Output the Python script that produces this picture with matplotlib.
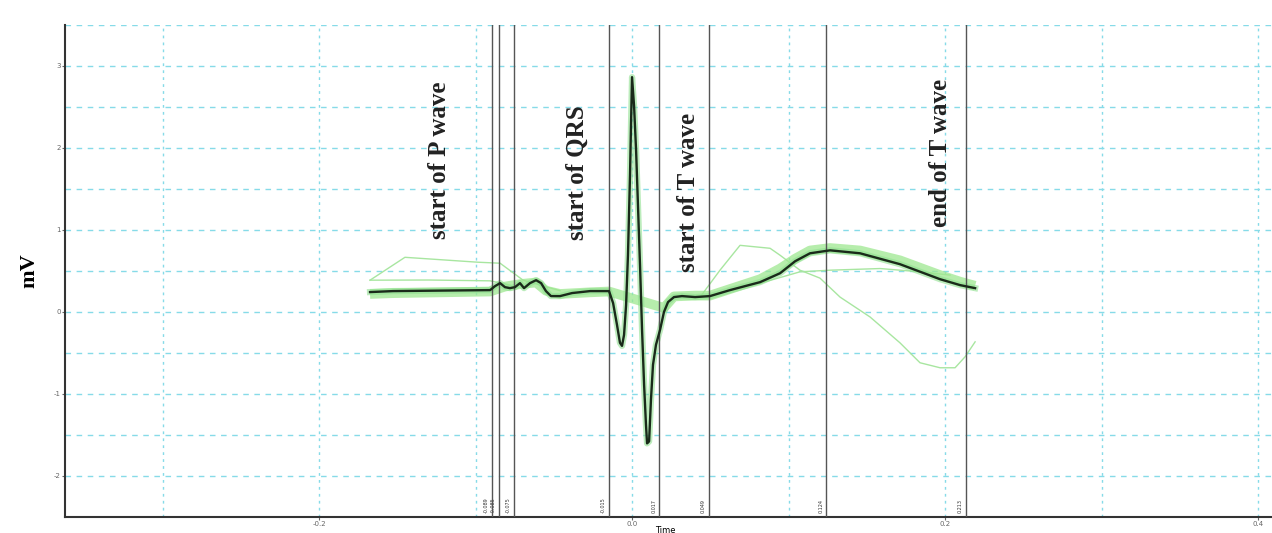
import numpy as np
import matplotlib.pyplot as plt

# averaged ECG beat (time in s, amplitude in mV)
t_mean = [-0.1674, -0.1527, -0.0907, -0.0875, -0.0843, -0.0812, -0.0780, -0.0748,
          -0.0716, -0.0690, -0.0652, -0.0613, -0.0581, -0.0550, -0.0518, -0.0460,
          -0.0383, -0.0268, -0.0147, -0.0121, -0.0096, -0.0077, -0.0064, -0.0051,
          -0.0038, -0.0026, -0.0013, -0.0006, 0.0000, 0.0013, 0.0026, 0.0038,
          0.0051, 0.0064, 0.0077, 0.0089, 0.0096, 0.0109, 0.0121, 0.0134,
          0.0153, 0.0179, 0.0204, 0.0230, 0.0268, 0.0319, 0.0403, 0.0498,
          0.0626, 0.0818, 0.0946, 0.1042, 0.1137, 0.1265, 0.1457, 0.1712,
          0.1968, 0.2096, 0.2192]
v_mean = [0.243, 0.255, 0.267, 0.316, 0.352, 0.303, 0.291, 0.303,
          0.352, 0.291, 0.352, 0.388, 0.352, 0.255, 0.194, 0.194,
          0.231, 0.255, 0.255, 0.109, -0.158, -0.376, -0.413, -0.279,
          0.085, 0.692, 1.663, 2.330, 2.864, 2.512, 1.966, 1.299,
          0.570, -0.218, -0.886, -1.371, -1.602, -1.578, -1.068, -0.643,
          -0.400, -0.218, 0.000, 0.121, 0.182, 0.194, 0.182, 0.194,
          0.267, 0.364, 0.473, 0.619, 0.716, 0.752, 0.716, 0.583,
          0.400, 0.328, 0.291]

# individual beats band (green)
t_band = [-0.1674, -0.1527, -0.0907, -0.0812, -0.0716, -0.0613, -0.0550, -0.0460,
          -0.0268, -0.0147, 0.0204, 0.0268, 0.0403, 0.0498, 0.0626, 0.0818,
          0.0946, 0.1042, 0.1137, 0.1265, 0.1457, 0.1712, 0.1968, 0.2096, 0.2192]
v_band = [0.22, 0.23, 0.25, 0.31, 0.34, 0.36, 0.26, 0.22,
          0.24, 0.25, 0.05, 0.19, 0.20, 0.20, 0.28, 0.40,
          0.53, 0.65, 0.75, 0.78, 0.75, 0.63, 0.45, 0.37, 0.32]

# outlier beats (thin light green)
t_out1 = [-0.1674, -0.1451, -0.0984, -0.0843, -0.0696, -0.0588, -0.0460]
v_out1 = [0.388, 0.667, 0.607, 0.595, 0.388, 0.328, 0.26]
t_out2 = [-0.1674, -0.1300, -0.0907, -0.0780]
v_out2 = [0.388, 0.39, 0.38, 0.33]
t_out3 = [0.0435, 0.0562, 0.0690, 0.0882, 0.0946, 0.1073, 0.1201, 0.1329,
          0.1521, 0.1712, 0.1840, 0.1968, 0.2064, 0.2128, 0.2192]
v_out3 = [0.182, 0.510, 0.813, 0.777, 0.692, 0.510, 0.413, 0.182,
          -0.061, -0.376, -0.619, -0.680, -0.680, -0.546, -0.364]
t_out4 = [0.0818, 0.1073, 0.1265, 0.1585, 0.1840, 0.2032]
v_out4 = [0.35, 0.49, 0.51, 0.53, 0.49, 0.45]

# fiducial markers
marker_t = [-0.0895, -0.0850, -0.0754, -0.0147, 0.0173, 0.0492, 0.1240, 0.2134]

notes = ["start of P wave", "start of QRS", "start of T wave", "end of T wave"]
note_t = [-0.1227, -0.0351, 0.0358, 0.1968]
note_v = [1.845, 1.699, 1.456, 1.942]

x_ticks = [-0.2, 0.0, 0.2, 0.4]
y_ticks = [-2, -1, 0, 1, 2, 3]

fig = plt.figure(figsize=(12.72, 5.33), dpi=100)
ax = fig.add_axes([65 / 1272, 16 / 533, 1207 / 1272, 492 / 533])

grid_col = "#86dbe8"
for gx in np.arange(-0.3, 0.41, 0.1):
    ax.axvline(gx, color=grid_col, lw=1.0, ls=(0, (2, 3)), zorder=0)
for gy in np.arange(-2.0, 3.51, 0.5):
    ax.axhline(gy, color=grid_col, lw=1.0, ls=(0, (4, 4)), zorder=0)

# outliers and band
for tt, vv in [(t_out1, v_out1), (t_out2, v_out2), (t_out3, v_out3), (t_out4, v_out4)]:
    ax.plot(tt, vv, color="#a8e6a0", lw=1.0, zorder=2)
ax.plot(t_band, v_band, color="#9ee890", lw=7, alpha=0.75, solid_capstyle="butt", zorder=3)
ax.plot(t_mean, v_mean, color="#90e090", lw=4.5, alpha=0.6, zorder=3)
ax.plot(t_mean, v_mean, color="#1a2a1a", lw=1.7, zorder=5)

# fiducial lines + tiny labels
for mt in marker_t:
    ax.axvline(mt, color="#555555", lw=1.0, zorder=4)
    ax.text(mt - 0.0035, -2.45, f"{mt:.3f}", rotation=90, fontsize=3.5,
            ha="center", va="bottom", color="#333333")

for txt, nt, nv in zip(notes, note_t, note_v):
    ax.text(nt, nv, txt, rotation=90, ha="center", va="center",
            fontsize=18, fontweight="bold", family="Liberation Serif", color="#222222")

ax.set_xlim(-0.3623, 0.4089)
ax.set_ylim(-2.5, 3.5)
ax.set_xticks(x_ticks)
ax.set_xticklabels([f"{v:.1f}" for v in x_ticks])
ax.set_yticks(y_ticks)
ax.set_yticklabels([str(v) for v in y_ticks])
ax.tick_params(axis="both", labelsize=5, length=2, colors="#666666", pad=1)

for s in ["top", "right"]:
    ax.spines[s].set_visible(False)
for s in ["left", "bottom"]:
    ax.spines[s].set_linewidth(1.5)
    ax.spines[s].set_color("#333333")

ax.set_ylabel("mV", fontsize=16, fontweight="bold", family="Liberation Serif")
ax.yaxis.set_label_coords(-0.021, 0.5)
ax.set_xlabel("Time", fontsize=6, labelpad=0)
ax.xaxis.set_label_coords(0.497, -0.018)

fig.savefig("out.png", dpi=100)
